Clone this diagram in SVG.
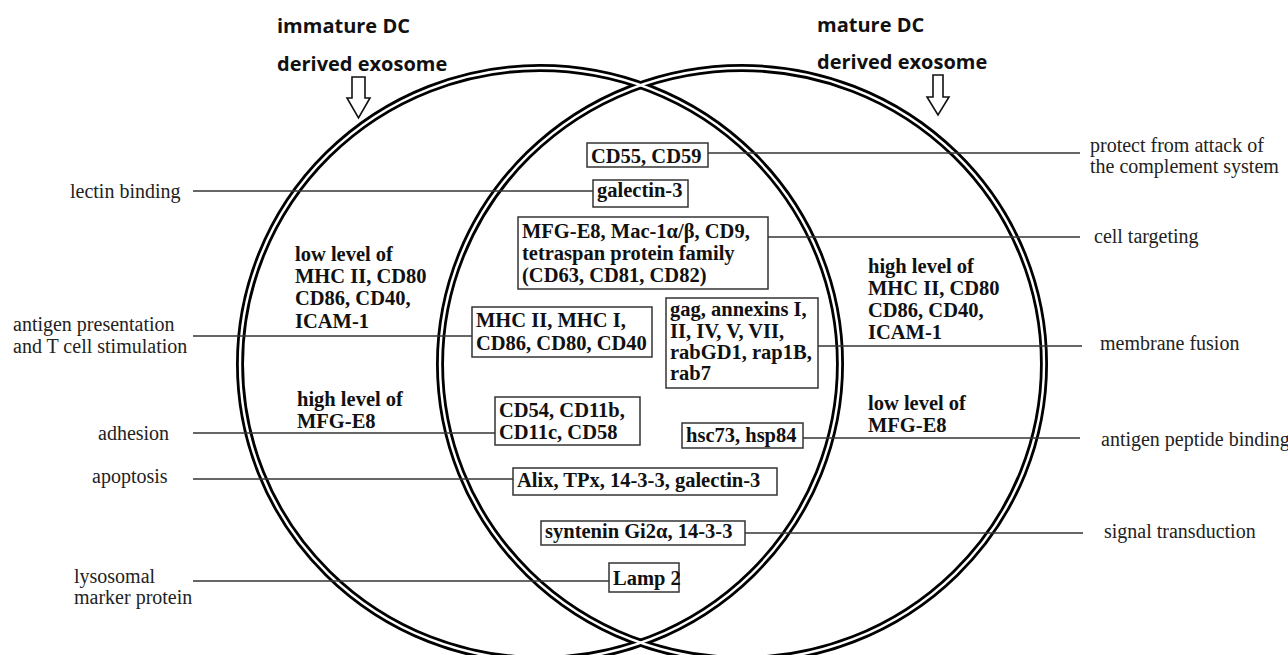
<svg xmlns="http://www.w3.org/2000/svg" width="1288" height="655" viewBox="0 0 1288 655">
<style>
.ring{fill:none;stroke:#000;stroke-width:8}
.gap{fill:none;stroke:#fff;stroke-width:2.4}
.box{fill:#fff;stroke:#333;stroke-width:1.5}
.bt{font-family:"Liberation Serif","Times New Roman",serif;font-weight:bold;font-size:20.5px;fill:#111}
.lb{font-family:"Liberation Serif","Times New Roman",serif;font-size:20px;fill:#222}
.hd{font-family:"Open Sans","Liberation Sans",sans-serif;font-weight:bold;font-size:20px;fill:#111}
.con line{stroke:#333;stroke-width:1.5}
.arr{fill:#fff;stroke:#111;stroke-width:1.6;stroke-linejoin:miter}
</style>
<rect width="1288" height="655" fill="#fff"/>
<g id="circles">
<ellipse class="ring" cx="540" cy="364" rx="300" ry="296"/>
<ellipse class="ring" cx="742" cy="364" rx="302" ry="296"/>
<ellipse class="gap" cx="540" cy="364" rx="300" ry="296"/>
<ellipse class="gap" cx="742" cy="364" rx="302" ry="296"/>
</g>
<g id="header-immature">
<text class="hd" x="277" y="33">immature DC</text>
<text class="hd" x="277" y="71">derived exosome</text>
<polygon class="arr" points="352,77 365,77 365,98 370,98 358.5,118 347,98 352,98"/>
</g>
<g id="header-mature">
<text class="hd" x="817" y="32">mature DC</text>
<text class="hd" x="817" y="69">derived exosome</text>
<polygon class="arr" points="933,75 943,75 943,97 949,97 938,115 927,97 933,97"/>
</g>
<g id="connectors" class="con">
<line x1="708" y1="153" x2="1080" y2="153"/>
<line x1="193" y1="191" x2="593" y2="191"/>
<line x1="768" y1="237" x2="1080" y2="237"/>
<line x1="193" y1="336" x2="472" y2="336"/>
<line x1="818" y1="346" x2="1082" y2="346"/>
<line x1="193" y1="433" x2="495" y2="433"/>
<line x1="803" y1="438" x2="1080" y2="438"/>
<line x1="193" y1="479" x2="513" y2="479"/>
<line x1="745" y1="533" x2="1083" y2="533"/>
<line x1="193" y1="581" x2="609" y2="581"/>
</g>
<g id="box-cd55">
<rect class="box" x="587" y="143" width="121" height="24"/>
<text class="bt" x="591" y="163">CD55, CD59</text>
</g>
<g id="box-galectin">
<rect class="box" x="593" y="180" width="95" height="27"/>
<text class="bt" x="597" y="197">galectin-3</text>
</g>
<g id="box-mfg">
<rect class="box" x="518" y="217" width="250" height="72"/>
<text class="bt" x="522" y="238">MFG-E8, Mac-1α/β, CD9,</text>
<text class="bt" x="522" y="260">tetraspan protein family</text>
<text class="bt" x="522" y="282">(CD63, CD81, CD82)</text>
</g>
<g id="box-mhc">
<rect class="box" x="472" y="307" width="180" height="50"/>
<text class="bt" x="476" y="327">MHC II, MHC I,</text>
<text class="bt" x="476" y="350">CD86, CD80, CD40</text>
</g>
<g id="box-gag">
<rect class="box" x="666" y="298" width="152" height="90"/>
<text class="bt" x="670" y="316">gag, annexins I,</text>
<text class="bt" x="670" y="338">II, IV, V, VII,</text>
<text class="bt" x="670" y="359">rabGD1, rap1B,</text>
<text class="bt" x="670" y="380">rab7</text>
</g>
<g id="box-cd54">
<rect class="box" x="495" y="397" width="145" height="48"/>
<text class="bt" x="499" y="417">CD54, CD11b,</text>
<text class="bt" x="499" y="439">CD11c, CD58</text>
</g>
<g id="box-hsc">
<rect class="box" x="682" y="423" width="121" height="25"/>
<text class="bt" x="686" y="442">hsc73, hsp84</text>
</g>
<g id="box-alix">
<rect class="box" x="513" y="468" width="264" height="27"/>
<text class="bt" x="517" y="487">Alix, TPx, 14-3-3, galectin-3</text>
</g>
<g id="box-syntenin">
<rect class="box" x="541" y="521" width="204" height="24"/>
<text class="bt" x="545" y="538">syntenin Gi2α, 14-3-3</text>
</g>
<g id="box-lamp">
<rect class="box" x="609" y="563" width="70" height="29"/>
<text class="bt" x="613" y="585">Lamp 2</text>
</g>
<g id="region-immature-1">
<text class="bt" x="295" y="261">low level of</text>
<text class="bt" x="295" y="283">MHC II, CD80</text>
<text class="bt" x="295" y="305">CD86, CD40,</text>
<text class="bt" x="295" y="328">ICAM-1</text>
</g>
<g id="region-immature-2">
<text class="bt" x="297" y="406">high level of</text>
<text class="bt" x="297" y="428">MFG-E8</text>
</g>
<g id="region-mature-1">
<text class="bt" x="868" y="273">high level of</text>
<text class="bt" x="868" y="295">MHC II, CD80</text>
<text class="bt" x="868" y="317">CD86, CD40,</text>
<text class="bt" x="868" y="339">ICAM-1</text>
</g>
<g id="region-mature-2">
<text class="bt" x="868" y="410">low level of</text>
<text class="bt" x="868" y="432">MFG-E8</text>
</g>
<g id="label-lectin"><text class="lb" x="70" y="198">lectin binding</text></g>
<g id="label-antigen">
<text class="lb" x="13" y="331">antigen presentation</text>
<text class="lb" x="13" y="353">and T cell stimulation</text>
</g>
<g id="label-adhesion"><text class="lb" x="98" y="440">adhesion</text></g>
<g id="label-apoptosis"><text class="lb" x="92" y="483">apoptosis</text></g>
<g id="label-lysosomal">
<text class="lb" x="74" y="583">lysosomal</text>
<text class="lb" x="74" y="604">marker protein</text>
</g>
<g id="label-protect">
<text class="lb" x="1090" y="152">protect from attack of</text>
<text class="lb" x="1090" y="173">the complement system</text>
</g>
<g id="label-targeting"><text class="lb" x="1094" y="243">cell targeting</text></g>
<g id="label-fusion"><text class="lb" x="1100" y="350">membrane fusion</text></g>
<g id="label-peptide"><text class="lb" x="1101" y="446">antigen peptide binding</text></g>
<g id="label-signal"><text class="lb" x="1104" y="538">signal transduction</text></g>
</svg>
